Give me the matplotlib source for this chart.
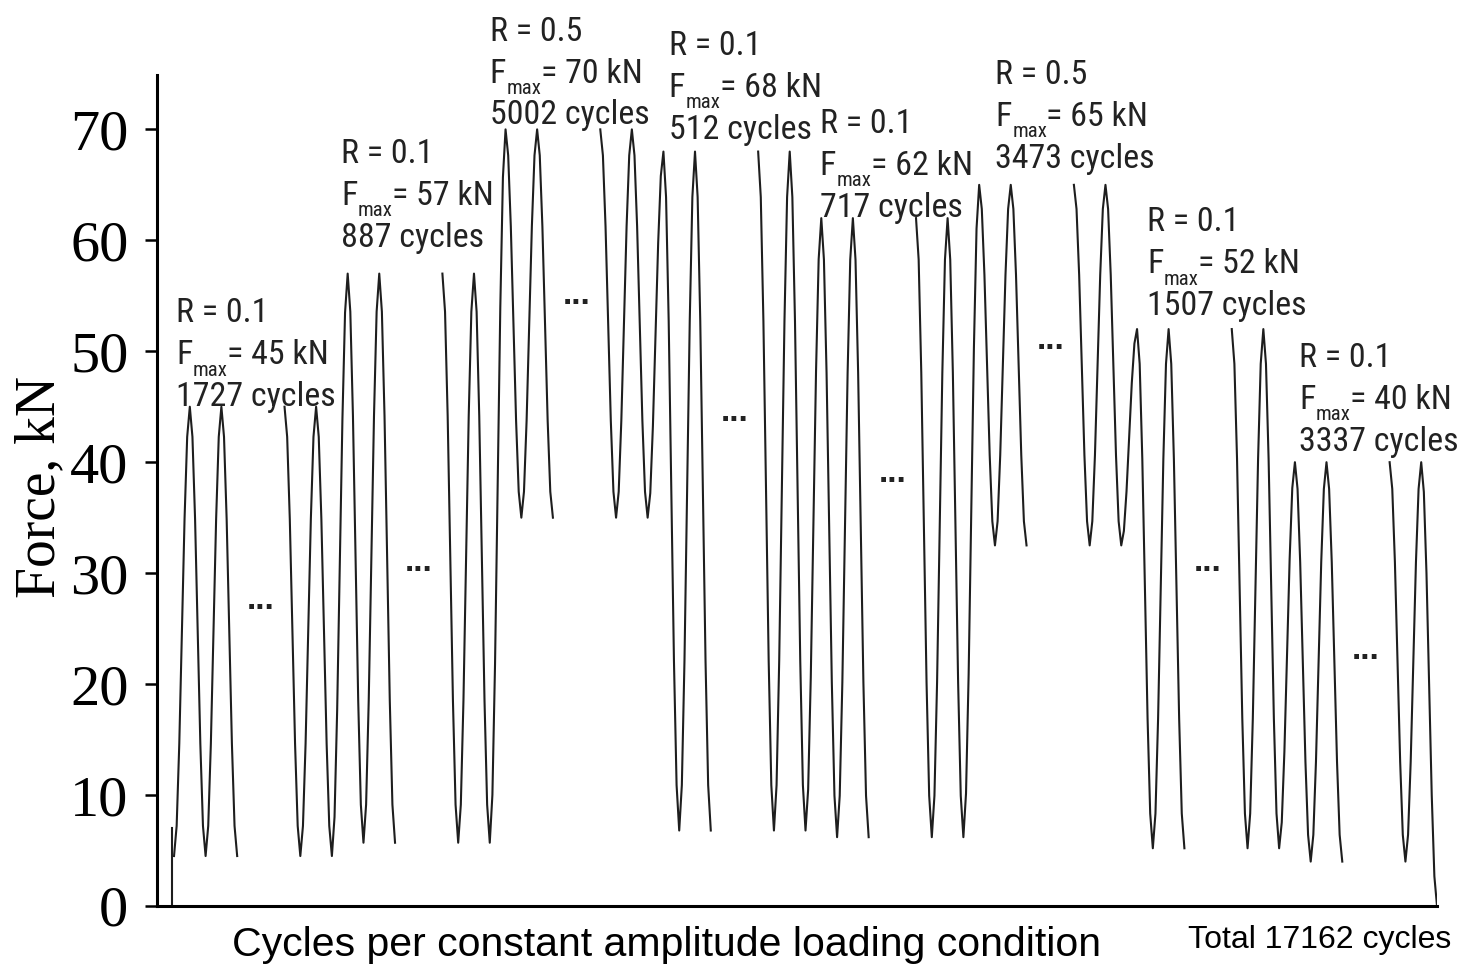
import numpy as np
import matplotlib
matplotlib.use("Agg")
import matplotlib.pyplot as plt
from matplotlib import font_manager
from matplotlib.font_manager import FontProperties

# loading blocks (constant amplitude conditions)
fmax = [45, 57, 70, 68, 62, 65, 52, 40]
r_ratio = [0.1, 0.1, 0.5, 0.1, 0.1, 0.5, 0.1, 0.1]
n_cycles = [1727, 887, 5002, 512, 717, 3473, 1507, 3337]
dots_level = [27.5, 31, 55, 44.5, 39, 51, 31, 23]
total_cycles = 17162
preload = [0, 7]          # short initial ramp before first block
final_unload = 0

# layout of the annotations (x offset in half cycles, baseline of first line in kN)
label_dx = [0.13, 0.57, 0.0, 1.33, 0.89, 2.03, 1.65, 1.27]
label_y = [52.6, 67.0, 78.0, 76.7, 69.7, 74.1, 60.8, 48.6]
line_step = 3.78

BLOCK = 10   # half cycles per block: 4 shown, 3 skipped, 3 shown


def pick_narrow():
    wanted = ('Liberation Sans Narrow', 'Roboto Condensed', 'Open Sans Condensed',
              'Noto Sans Condensed', 'DejaVu Sans Condensed', 'Arial Narrow')
    fonts = font_manager.fontManager.ttflist
    for f in fonts:
        if f.name in wanted and f.style == 'normal' and f.weight in (400, 'normal', 'regular'):
            return f.fname
    for f in fonts:
        if (f.name in ('Noto Sans', 'DejaVu Sans', 'Roboto', 'Open Sans', 'Liberation Sans')
                and str(f.stretch) in ('condensed', 'semi-condensed', 'extra-condensed')
                and f.style == 'normal' and f.weight in (400, 'normal', 'regular')):
            return f.fname
    return None


narrow_file = pick_narrow()
if narrow_file:
    lab_fp = FontProperties(fname=narrow_file, size=24.5)
    sub_fp = FontProperties(fname=narrow_file, size=15)
else:
    lab_fp = FontProperties(family='Liberation Sans', size=22)
    sub_fp = FontProperties(family='Liberation Sans', size=13)


def half_cycles(t0, levels, n=6):
    xs, ys = [t0], [levels[0]]
    for i in range(len(levels) - 1):
        s = np.linspace(0, 1, n + 1)[1:]
        a, b = levels[i], levels[i + 1]
        xs.extend(t0 + i + s)
        ys.extend(a + (b - a) * (1 - np.cos(np.pi * s)) / 2)
    return np.array(xs), np.array(ys)


fig = plt.figure(figsize=(14.62, 9.73), dpi=100)
ax = fig.add_axes([0.1074, 0.0689, 0.8755, 0.854])
lc = '#1e1e1e'
lw = 1.5
tc = '#222222'

fmin = [f * r for f, r in zip(fmax, r_ratio)]
ax.plot([-0.12, -0.12], preload, color=lc, lw=lw)

# runs: A of first block, then B_k joined with A_k+1, then last B
runs = [(0, [fmin[0], fmax[0], fmin[0], fmax[0], fmin[0]])]
for k in range(len(fmax)):
    t0 = k * BLOCK + 7
    lev = [fmax[k], fmin[k], fmax[k]]
    if k + 1 < len(fmax):
        lev += [fmin[k], fmax[k + 1], fmin[k + 1], fmax[k + 1], fmin[k + 1]]
    else:
        lev += [final_unload]
    runs.append((t0, lev))
for t0, lev in runs:
    x, y = half_cycles(t0, lev)
    ax.plot(x, y, color=lc, lw=lw)

for k in range(len(fmax)):
    x0 = k * BLOCK
    ax.text(x0 + 5.5, dots_level[k], '...', ha='center', va='center',
            fontsize=24, fontweight='bold', family='Liberation Sans', color='#222222')
    lx = x0 + label_dx[k]
    y0 = label_y[k]
    ax.text(lx, y0, 'R = %g' % r_ratio[k], ha='left', va='baseline',
            fontproperties=lab_fp, color=tc, clip_on=False)
    tF = ax.text(lx, y0 - line_step, 'F', ha='left', va='baseline',
                 fontproperties=lab_fp, color=tc, clip_on=False)
    tm = ax.annotate('max', xy=(1, 0), xycoords=tF, xytext=(0.3, -6),
                     textcoords='offset points', ha='left', va='bottom',
                     fontproperties=sub_fp, color=tc, annotation_clip=False)
    ax.annotate('= %d kN' % fmax[k], xy=(1, 0), xycoords=(tm, tF), xytext=(-0.5, 0),
                textcoords='offset points', ha='left', va='bottom',
                fontproperties=lab_fp, color=tc, annotation_clip=False)
    ax.text(lx, y0 - 2 * line_step, '%d cycles' % n_cycles[k], ha='left', va='baseline',
            fontproperties=lab_fp, color=tc, clip_on=False)

ax.set_xlim(-1.077, len(fmax) * BLOCK)
ax.set_ylim(0, 74.9)
ax.set_yticks(np.arange(0, 71, 10))
ax.set_xticks([])
for side in ['top', 'right']:
    ax.spines[side].set_visible(False)
for side in ['left', 'bottom']:
    ax.spines[side].set_linewidth(2.2)
ax.tick_params(axis='y', direction='out', length=8.6, width=1.8, pad=12,
               labelsize=42)
for lab in ax.get_yticklabels():
    lab.set_family('Liberation Serif')

fig.text(40 / 1462, 1 - 487 / 973, 'Force, kN', rotation=90, ha='center', va='center',
         fontsize=40, family='Liberation Serif')
fig.text(667 / 1462, 1 - 945 / 973, 'Cycles per constant amplitude loading condition',
         ha='center', va='center', fontsize=29.5, family='Liberation Sans')
fig.text(1188 / 1462, 1 - 940 / 973, 'Total %d cycles' % total_cycles,
         ha='left', va='center', fontsize=23, family='Liberation Sans')

fig.savefig('out.png', dpi=100)
